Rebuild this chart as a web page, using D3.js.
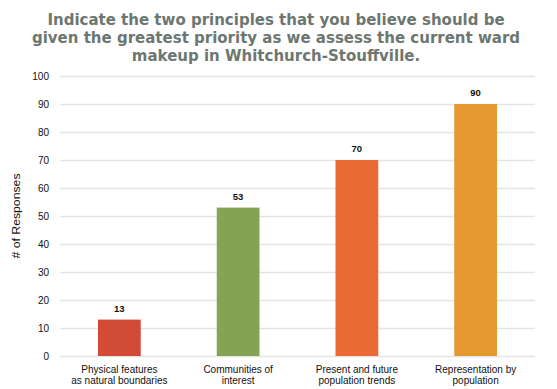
<!DOCTYPE html>
<html>
<head>
<meta charset="utf-8">
<script src="https://cdn.jsdelivr.net/npm/d3@7"></script>
<style>
  html, body { margin: 0; padding: 0; background: #fff; }
  svg { display: block; }
</style>
</head>
<body>
<svg id="chart" width="557" height="389"></svg>
<script>
// Survey responses per principle
const categories = [
  ["Physical features", "as natural boundaries"],
  ["Communities of", "interest"],
  ["Present and future", "population trends"],
  ["Representation by", "population"]
];
const responses = [13, 53, 70, 90];
const barColors = ["#d24b35", "#84a453", "#eb6a34", "#e5982f"];
const yTicks = [0, 10, 20, 30, 40, 50, 60, 70, 80, 90, 100];
const titleLines = [
  "Indicate the two principles that you believe should be",
  "given the greatest priority as we assess the current ward",
  "makeup in Whitchurch-Stouffville."
];
const yAxisTitle = "# of Responses";

const svg = d3.select("#chart");
const margin = { left: 60, right: 22, top: 76, bottom: 33 };
const W = 557, H = 389;

const x = d3.scaleBand()
  .domain(d3.range(categories.length))
  .range([margin.left, W - margin.right])
  .paddingInner(0.64)
  .paddingOuter(0.32);

const y = d3.scaleLinear().domain([0, 100]).range([H - margin.bottom, margin.top]);

// Title
svg.append("g").selectAll("text").data(titleLines).join("text")
  .attr("x", 276)
  .attr("y", (d, i) => 25 + i * 18)
  .attr("text-anchor", "middle")
  .attr("font-family", "DejaVu Sans")
  .attr("font-weight", "bold")
  .attr("font-size", 15)
  .attr("fill", "#6b7770")
  .text(d => d);

// Gridlines + tick labels
const yAxis = d3.axisLeft(y).tickValues(yTicks).tickSize(-(W - margin.left - margin.right)).tickPadding(11);
const gy = svg.append("g").attr("transform", `translate(${margin.left},0)`).call(yAxis);
gy.select(".domain").remove();
gy.selectAll(".tick line").attr("stroke", "#e4e4e4").attr("stroke-width", 1.5);
gy.selectAll(".tick text")
  .attr("font-family", "Liberation Sans, Arial, sans-serif")
  .attr("font-size", 10)
  .attr("fill", "#111");

// Y axis title
svg.append("text")
  .attr("transform", `translate(20,${y(50)}) rotate(-90)`)
  .attr("text-anchor", "middle")
  .attr("font-family", "Liberation Sans, Arial, sans-serif")
  .attr("font-size", 11)
  .attr("textLength", 85)
  .attr("lengthAdjust", "spacingAndGlyphs")
  .attr("fill", "#111")
  .text(yAxisTitle);

// Bars
svg.append("g").selectAll("rect").data(responses).join("rect")
  .attr("x", (d, i) => x(i))
  .attr("width", x.bandwidth())
  .attr("y", d => y(d))
  .attr("height", d => y(0) - y(d))
  .attr("fill", (d, i) => barColors[i]);

// Value labels
svg.append("g").selectAll("text").data(responses).join("text")
  .attr("x", (d, i) => x(i) + x.bandwidth() / 2)
  .attr("y", d => y(d) - 8)
  .attr("text-anchor", "middle")
  .attr("font-family", "Liberation Sans, Arial, sans-serif")
  .attr("font-weight", "bold")
  .attr("font-size", 9.5)
  .attr("fill", "#111")
  .text(d => d);

// Category labels
const xl = svg.append("g").selectAll("text").data(categories).join("text")
  .attr("text-anchor", "middle")
  .attr("font-family", "Liberation Sans, Arial, sans-serif")
  .attr("font-size", 10)
  .attr("fill", "#111");
xl.selectAll("tspan").data((d, i) => d.map(s => ({ s, i }))).join("tspan")
  .attr("x", d => x(d.i) + x.bandwidth() / 2)
  .attr("y", (d, j) => 373 + j * 11)
  .text(d => d.s);
</script>
</body>
</html>
